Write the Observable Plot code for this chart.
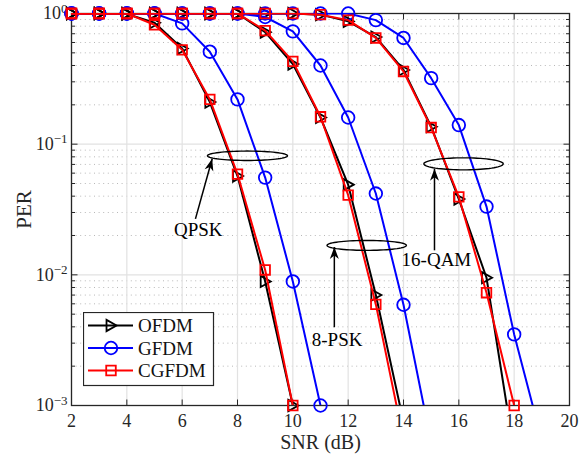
<!DOCTYPE html>
<html><head><meta charset="utf-8">
<script src="https://cdn.jsdelivr.net/npm/d3@7"></script>
<script src="https://cdn.jsdelivr.net/npm/@observablehq/plot@0.6"></script>
<style>
body{margin:0;background:#fff;}
#wrap{position:relative;width:587px;height:466px;}
#wrap svg, #wrap svg text{font-family:"Liberation Serif","Times New Roman",serif !important;}
#legend{position:absolute;left:83px;top:312px;}
</style></head><body><div id="wrap"></div>
<script>
// ---------- data ----------
const snr = [2,3,4,5,6,7,8,9,10,11,12,13,14,15,16,17,18,19];
const schemes = ["OFDM","GFDM","CGFDM"];
const colors = ["#000000","#0000ff","#ff0000"];
const mods = ["QPSK","8-PSK","16-QAM"];

const qpskOFDM  = [1,1,0.99,0.85,0.54,0.21,0.057,0.0089,0.001];
const qpskGFDM  = [1,1,1,1,0.84,0.51,0.22,0.0555,0.0089,0.001];
const qpskCGFDM = [1,1,1,0.82,0.527,0.22,0.059,0.0109,0.001];

const psk8OFDM  = [1,1,1,1,1,1,1,0.72,0.41,0.16,0.049,0.0070,0.00075];
const psk8GFDM  = [1,1,1,1,1,1,1,0.94,0.73,0.40,0.16,0.0419,0.0059,0.00052];
const psk8CGFDM = [1,1,1,1,1,1,1,0.74,0.43,0.162,0.0407,0.00594,0.00055];

const qam16OFDM  = [1,1,1,1,1,1,1,1,1,0.98,0.87,0.66,0.37,0.136,0.038,0.0095,0.00044];
const qam16GFDM  = [1,1,1,1,1,1,1,1,1,1,1,0.89,0.65,0.32,0.14,0.0333,0.0035,0.00054];
const qam16CGFDM = [1,1,1,1,1,1,1,1,1,0.98,0.89,0.65,0.36,0.134,0.0395,0.0073,0.001];

const xTicks = [2,4,6,8,10,12,14,16,18,20];
const yTicks = [1e-3,1e-2,1e-1,1];
const yMinor = [2,3,4,5,6,7,8,9].flatMap(m => [1e-3,1e-2,1e-1].map(k => m*k));

// annotations
const annLabels = ["QPSK","8-PSK","16-QAM"];
const annEllSNR = [8.36, 12.67, 16.17];
const annEllPER = [0.0815, 0.0168, 0.0707];
const annEllHalfDb = [1.446, 1.435, 1.435];
const annEllHalfDec = [0.036, 0.038, 0.046];
const annFromSNR = [6.48, 11.5, 15.12];
const annFromPER = [0.0268, 0.00397, 0.0154];
const annToSNR = [7.085, 11.5, 15.12];
const annToPER = [0.0773, 0.0163, 0.0648];
const annTextSNR = [6.58, 11.6, 15.19];
const annTextPER = [0.0221, 0.00318, 0.0129];

// ---------- build ----------
const W = 587, H = 466, mL = 71, mR = 18, mT = 13, mB = 61;
const dec = (H - mT - mB) / 3, dbpx = (W - mL - mR) / 18;
const series = [
  ["QPSK","OFDM",qpskOFDM],["8-PSK","OFDM",psk8OFDM],["16-QAM","OFDM",qam16OFDM],
  ["QPSK","GFDM",qpskGFDM],["8-PSK","GFDM",psk8GFDM],["16-QAM","GFDM",qam16GFDM],
  ["QPSK","CGFDM",qpskCGFDM],["8-PSK","CGFDM",psk8CGFDM],["16-QAM","CGFDM",qam16CGFDM]
];
const rows = series.flatMap(([mod, scheme, arr]) => arr.map((p, i) => ({mod, scheme, snr: snr[i], per: p})));

const triRight = {draw(ctx, size){ const r = Math.sqrt(size/Math.PI); ctx.moveTo(r,0); ctx.lineTo(-r*0.8,-r); ctx.lineTo(-r*0.8,r); ctx.closePath(); }};
const symOf = {OFDM: triRight, GFDM: d3.symbolCircle, CGFDM: d3.symbolSquare};
const rOf = {OFDM: 5.6, GFDM: 6.3, CGFDM: 5.4};

const ellipses = annLabels.flatMap((lab, j) => d3.range(0, 73).map(k => {
  const t = k / 72 * 2 * Math.PI;
  return {lab, x: annEllSNR[j] + annEllHalfDb[j]*Math.cos(t), y: annEllPER[j] * Math.pow(10, annEllHalfDec[j]*Math.sin(t))};
}));
const arrows = annLabels.map((lab, j) => ({lab, x1: annFromSNR[j], y1: annFromPER[j], x2: annToSNR[j], y2: annToPER[j]}));
const texts = annLabels.map((lab, j) => ({lab, x: annTextSNR[j], y: annTextPER[j]}));

const grid = "#e2e2e2", axc = "#262626", tk = 6, tkm = 3.5;
const marks = [
  Plot.ruleY(yMinor, {y: d => d, stroke: "#b8b8b8", strokeWidth: 1, strokeDasharray: "1,3.6"}),
  Plot.ruleX(xTicks, {x: d => d, stroke: grid, strokeWidth: 1.2}),
  Plot.ruleY(yTicks, {y: d => d, stroke: grid, strokeWidth: 1.2}),
  Plot.frame({stroke: axc, strokeWidth: 1.3}),
  Plot.link(xTicks, {x1: d => d, x2: d => d, y1: 1e-3, y2: 1e-3*10**(tk/dec), stroke: axc}),
  Plot.link(xTicks, {x1: d => d, x2: d => d, y1: 1, y2: 10**(-tk/dec), stroke: axc}),
  Plot.link(yTicks, {y1: d => d, y2: d => d, x1: 2, x2: 2 + tk/dbpx, stroke: axc}),
  Plot.link(yTicks, {y1: d => d, y2: d => d, x1: 20, x2: 20 - tk/dbpx, stroke: axc}),
  Plot.link(yMinor, {y1: d => d, y2: d => d, x1: 2, x2: 2 + tkm/dbpx, stroke: axc}),
  Plot.link(yMinor, {y1: d => d, y2: d => d, x1: 20, x2: 20 - tkm/dbpx, stroke: axc}),
  Plot.axisX(xTicks, {tickSize: 0, tickPadding: 9, fontSize: 18, fill: "#262626", label: null}),
  Plot.axisY(yTicks, {tickSize: 0, tickPadding: 4, fontSize: 18, fill: "#262626", label: null,
    tickFormat: d => "10^" + String(Math.round(Math.log10(d))).replace("-", "\u2212")}),
  Plot.text(["SNR (dB)"], {frameAnchor: "bottom", dy: 37, lineAnchor: "middle", fontSize: 20, fill: "#262626"}),
  Plot.text(["PER"], {frameAnchor: "left", textAnchor: "middle", lineAnchor: "middle", rotate: -90, dx: -47, fontSize: 21, fill: "#262626"})
];
for (const s of schemes) {
  const c = colors[schemes.indexOf(s)];
  marks.push(Plot.line(rows.filter(d => d.scheme === s), {x: "snr", y: "per", z: "mod", stroke: c, strokeWidth: 2, clip: true}));
  marks.push(Plot.dot(rows.filter(d => d.scheme === s && d.per >= 0.00099), {x: "snr", y: "per", symbol: symOf[s], r: rOf[s], stroke: c, fill: "none", strokeWidth: 1.8}));
}
marks.push(
  Plot.line(ellipses, {x: "x", y: "y", z: "lab", stroke: "black", strokeWidth: 1.4}),
  Plot.link(arrows, {x1: "x1", y1: "y1", x2: "x2", y2: "y2", stroke: "black", strokeWidth: 1.5, className: "annarrow"}),
  Plot.text(texts, {x: "x", y: "y", text: "lab", fontSize: 19, fill: "black", lineAnchor: "middle"})
);

const chart = Plot.plot({
  width: W, height: H, marginLeft: mL, marginRight: mR, marginTop: mT, marginBottom: mB,
  style: {fontSize: "18px", background: "white", color: "#262626"},
  x: {domain: [2, 20]},
  y: {type: "log", domain: [1e-3, 1]},
  marks
});
document.getElementById("wrap").appendChild(chart);

// superscripts for log tick labels
const svg = d3.select(chart);
svg.selectAll('g[aria-label="y-axis tick label"] text').each(function(){
  const m = this.textContent.match(/^10\^(.+)$/);
  if (m) { const s = d3.select(this); s.text("10"); s.append("tspan").attr("dy", "-0.5em").attr("font-size", "13px").text(m[1]); }
});
// filled arrowheads
const defs = svg.append("defs");
defs.append("marker").attr("id", "vback").attr("viewBox", "-13 -6 14 12").attr("markerWidth", 14).attr("markerHeight", 12)
  .attr("markerUnits", "userSpaceOnUse").attr("refX", 0).attr("refY", 0).attr("orient", "auto")
  .append("path").attr("d", "M0,0L-12,-4.5L-8.5,0L-12,4.5Z").attr("fill", "black");
svg.selectAll(".annarrow path").attr("marker-end", "url(#vback)");

// legend
const lg = d3.select("#wrap").append("svg").attr("id", "legend").attr("width", 132).attr("height", 75);
lg.append("rect").attr("x", 0.5).attr("y", 0.5).attr("width", 130).attr("height", 73).attr("fill", "white").attr("stroke", axc).attr("stroke-width", 1.2);
schemes.forEach((s, i) => {
  const y = 13.5 + i * 22.5, c = colors[i];
  lg.append("line").attr("x1", 5).attr("x2", 50).attr("y1", y).attr("y2", y).attr("stroke", c).attr("stroke-width", 2);
  lg.append("path").attr("transform", `translate(28,${y})`).attr("d", d3.symbol(symOf[s], rOf[s]*rOf[s]*Math.PI)())
    .attr("fill", "none").attr("stroke", c).attr("stroke-width", 1.8);
  lg.append("text").attr("x", 55).attr("y", y).attr("dy", "0.35em").attr("font-size", 19).attr("fill", "#111").text(s);
});
</script></body></html>
